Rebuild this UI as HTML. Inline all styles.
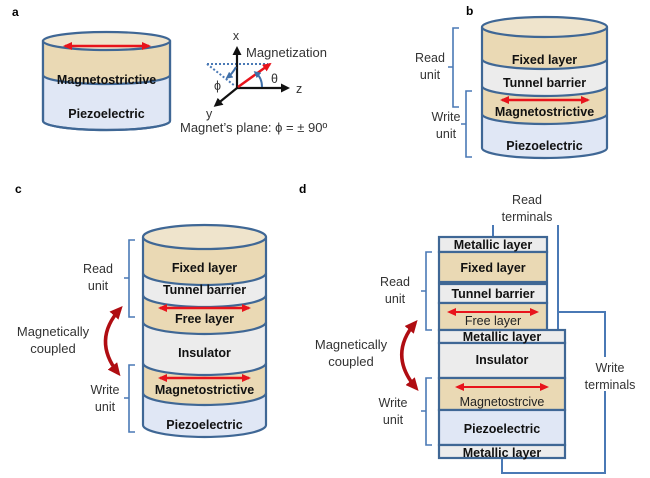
<!DOCTYPE html>
<html><head><meta charset="utf-8"><style>
html,body{margin:0;padding:0;background:#fff;}
svg{display:block;}
text{font-family:"Liberation Sans",Arial,sans-serif;}
.b{font-weight:bold;font-size:12.5px;fill:#111;}
.l{font-size:12.5px;fill:#333;}
.cyl{stroke:#3f6795;stroke-width:2.2;}
.br{fill:none;stroke:#4a79b5;stroke-width:1.6;}
.box{stroke:#3f6795;stroke-width:2.2;}
</style></head><body>
<svg width="650" height="478" viewBox="0 0 650 478" xmlns="http://www.w3.org/2000/svg">
<defs>
<marker id="ra" markerUnits="userSpaceOnUse" markerWidth="9" markerHeight="8" refX="7" refY="4" orient="auto-start-reverse"><path d="M0,0 L9,4 L0,8 z" fill="#e8141c"/></marker>
<marker id="ka" markerUnits="userSpaceOnUse" markerWidth="9" markerHeight="9" refX="6" refY="4.5" orient="auto"><path d="M0,0 L9,4.5 L0,9 z" fill="#111"/></marker>
<marker id="ba" markerUnits="userSpaceOnUse" markerWidth="7" markerHeight="7" refX="4" refY="3.5" orient="auto"><path d="M0,0 L7,3.5 L0,7 z" fill="#3f6fa8"/></marker>
<marker id="dr" markerUnits="userSpaceOnUse" markerWidth="13" markerHeight="12" refX="9" refY="6" orient="auto-start-reverse"><path d="M0,0 L13,6 L0,12 z" fill="#b00d12"/></marker>
</defs>
<rect width="650" height="478" fill="#fff"/>

<text x="12" y="16" style="font-weight:bold;font-size:12px">a</text>
<text x="466" y="15" style="font-weight:bold;font-size:12px">b</text>
<text x="15" y="193" style="font-weight:bold;font-size:12px">c</text>
<text x="299" y="193" style="font-weight:bold;font-size:12px">d</text>

<!-- Panel a cylinder -->
<path class="cyl" d="M43,41 L43,121 A63.5,9 0 0 0 170,121 L170,41 Z" fill="#e0e7f5"/>
<path d="M43,41 L43,75 A63.5,9 0 0 0 170,75 L170,41 Z" fill="#ead9b4"/>
<path class="cyl" fill="none" d="M43,75 A63.5,9 0 0 0 170,75"/>
<path class="cyl" fill="none" d="M43,41 L43,121 A63.5,9 0 0 0 170,121 L170,41"/>
<ellipse class="cyl" cx="106.5" cy="41" rx="63.5" ry="9" fill="#efe4cc"/>
<line x1="65" y1="46" x2="149" y2="46" stroke="#e8141c" stroke-width="2.5" marker-start="url(#ra)" marker-end="url(#ra)"/>
<text x="106.5" y="84" class="b" text-anchor="middle">Magnetostrictive</text>
<text x="106.5" y="118" class="b" text-anchor="middle">Piezoelectric</text>

<!-- axes -->
<line x1="207" y1="64" x2="268" y2="64" stroke="#4a79b5" stroke-width="2" stroke-dasharray="2,2"/>
<line x1="207" y1="64" x2="235" y2="86" stroke="#4a79b5" stroke-width="2" stroke-dasharray="2,2"/>
<line x1="237" y1="88" x2="237" y2="49" stroke="#111" stroke-width="2.2" marker-end="url(#ka)"/>
<line x1="237" y1="88" x2="287" y2="88" stroke="#111" stroke-width="2.2" marker-end="url(#ka)"/>
<line x1="237" y1="88" x2="216" y2="105" stroke="#111" stroke-width="2.2" marker-end="url(#ka)"/>
<line x1="238" y1="87" x2="270" y2="64" stroke="#e8141c" stroke-width="2.5" marker-end="url(#ra)"/>
<path d="M236,67 Q232,74 228,77" fill="none" stroke="#3f6fa8" stroke-width="2" marker-end="url(#ba)"/>
<path d="M262,87 Q262,78 256,73" fill="none" stroke="#3f6fa8" stroke-width="2" marker-end="url(#ba)"/>
<text x="236" y="40" class="l" text-anchor="middle">x</text>
<text x="296" y="93" class="l">z</text>
<text x="206" y="118" class="l">y</text>
<text x="246" y="57" class="l" style="font-size:13px">Magnetization</text>
<text x="214" y="90" class="l">ϕ</text>
<text x="271" y="83" class="l">θ</text>
<text x="180" y="132" class="l" style="font-size:13px">Magnet’s plane:  ϕ = ± 90º</text>

<!-- Panel b cylinder -->
<path d="M482,27 L482,148 A62.5,10 0 0 0 607,148 L607,27 Z" fill="#e0e7f5"/>
<path d="M482,27 L482,114 A62.5,10 0 0 0 607,114 L607,27 Z" fill="#ead9b4"/>
<path d="M482,59 L482,86 A62.5,10 0 0 0 607,86 L607,59 A62.5,10 0 0 1 482,59 Z" fill="#ececec"/>
<path class="cyl" fill="none" d="M482,59 A62.5,10 0 0 0 607,59 M482,86 A62.5,10 0 0 0 607,86 M482,114 A62.5,10 0 0 0 607,114"/>
<path class="cyl" fill="none" d="M482,27 L482,148 A62.5,10 0 0 0 607,148 L607,27"/>
<ellipse class="cyl" cx="544.5" cy="27" rx="62.5" ry="10" fill="#efe4cc"/>
<line x1="502" y1="100" x2="588" y2="100" stroke="#e8141c" stroke-width="2.5" marker-start="url(#ra)" marker-end="url(#ra)"/>
<text x="544.5" y="64" class="b" text-anchor="middle">Fixed layer</text>
<text x="544.5" y="87" class="b" text-anchor="middle">Tunnel barrier</text>
<text x="544.5" y="116" class="b" text-anchor="middle">Magnetostrictive</text>
<text x="544.5" y="150" class="b" text-anchor="middle">Piezoelectric</text>
<path class="br" d="M459,28 L453,28 L453,67 L448,67 M453,67 L453,107 L459,107"/>
<path class="br" d="M472,91 L466,91 L466,124 L461,124 M466,124 L466,157 L472,157"/>
<text x="430" y="62" class="l" text-anchor="middle">Read</text>
<text x="430" y="79" class="l" text-anchor="middle">unit</text>
<text x="446" y="121" class="l" text-anchor="middle">Write</text>
<text x="446" y="138" class="l" text-anchor="middle">unit</text>

<!-- Panel c cylinder -->
<path d="M143,237 L143,425 A61.5,12 0 0 0 266,425 L266,237 Z" fill="#e0e7f5"/>
<path d="M143,363 L143,393 A61.5,12 0 0 0 266,393 L266,363 Z" fill="#ead9b4"/>
<path d="M143,322 L143,363 A61.5,12 0 0 0 266,363 L266,322 A61.5,12 0 0 1 143,322 Z" fill="#ececec"/>
<path d="M143,237 L143,322 A61.5,12 0 0 0 266,322 L266,237 Z" fill="#ead9b4"/>
<path d="M143,273 L143,295 A61.5,12 0 0 0 266,295 L266,273 A61.5,12 0 0 1 143,273 Z" fill="#ececec"/>
<path class="cyl" fill="none" d="M143,273 A61.5,12 0 0 0 266,273 M143,295 A61.5,12 0 0 0 266,295 M143,322 A61.5,12 0 0 0 266,322 M143,363 A61.5,12 0 0 0 266,363 M143,393 A61.5,12 0 0 0 266,393"/>
<path class="cyl" fill="none" d="M143,237 L143,425 A61.5,12 0 0 0 266,425 L266,237"/>
<ellipse class="cyl" cx="204.5" cy="237" rx="61.5" ry="12" fill="#efe4cc"/>
<line x1="160" y1="308" x2="249" y2="308" stroke="#e8141c" stroke-width="2.5" marker-start="url(#ra)" marker-end="url(#ra)"/>
<line x1="160" y1="378" x2="249" y2="378" stroke="#e8141c" stroke-width="2.5" marker-start="url(#ra)" marker-end="url(#ra)"/>
<text x="204.5" y="272" class="b" text-anchor="middle">Fixed layer</text>
<text x="204.5" y="294" class="b" text-anchor="middle">Tunnel barrier</text>
<text x="204.5" y="323" class="b" text-anchor="middle">Free layer</text>
<text x="204.5" y="357" class="b" text-anchor="middle">Insulator</text>
<text x="204.5" y="394" class="b" text-anchor="middle">Magnetostrictive</text>
<text x="204.5" y="429" class="b" text-anchor="middle">Piezoelectric</text>
<path class="br" d="M135,240 L129,240 L129,278 L124,278 M129,278 L129,317 L135,317"/>
<path class="br" d="M135,365 L129,365 L129,398 L124,398 M129,398 L129,432 L135,432"/>
<text x="98" y="273" class="l" text-anchor="middle">Read</text>
<text x="98" y="290" class="l" text-anchor="middle">unit</text>
<text x="105" y="394" class="l" text-anchor="middle">Write</text>
<text x="105" y="411" class="l" text-anchor="middle">unit</text>
<text x="53" y="336" class="l" text-anchor="middle" style="font-size:13px">Magnetically</text>
<text x="53" y="353" class="l" text-anchor="middle" style="font-size:13px">coupled</text>
<path d="M120,309 Q92,340 118,373" fill="none" stroke="#b00d12" stroke-width="3.5" marker-start="url(#dr)" marker-end="url(#dr)"/>

<!-- Panel d -->
<line x1="493" y1="225" x2="493" y2="237" stroke="#4a79b5" stroke-width="2"/>
<line x1="558" y1="225" x2="558" y2="330" stroke="#4a79b5" stroke-width="2"/>
<path d="M558,312 L605,312 L605,473 L502,473 L502,458" fill="none" stroke="#4a79b5" stroke-width="2"/>
<rect x="439" y="237" width="108" height="15" class="box" fill="#ececec"/>
<rect x="439" y="252" width="108" height="30" class="box" fill="#ead9b4"/>
<rect x="439" y="284" width="108" height="19" class="box" fill="#ececec"/>
<rect x="439" y="303" width="108" height="27" class="box" fill="#ead9b4"/>
<rect x="439" y="330" width="126" height="13" class="box" fill="#ececec"/>
<rect x="439" y="343" width="126" height="35" class="box" fill="#ececec"/>
<rect x="439" y="378" width="126" height="32" class="box" fill="#ead9b4"/>
<rect x="439" y="410" width="126" height="35" class="box" fill="#e0e7f5"/>
<rect x="439" y="445" width="126" height="13" class="box" fill="#ececec"/>
<text x="493" y="249" class="b" text-anchor="middle">Metallic layer</text>
<text x="493" y="272" class="b" text-anchor="middle">Fixed layer</text>
<text x="493" y="298" class="b" text-anchor="middle">Tunnel barrier</text>
<line x1="449" y1="312" x2="537" y2="312" stroke="#e8141c" stroke-width="2" marker-start="url(#ra)" marker-end="url(#ra)"/>
<text x="493" y="325" class="l" text-anchor="middle" style="fill:#222">Free layer</text>
<text x="502" y="341" class="b" text-anchor="middle">Metallic layer</text>
<text x="502" y="364" class="b" text-anchor="middle">Insulator</text>
<line x1="457" y1="387" x2="547" y2="387" stroke="#e8141c" stroke-width="2" marker-start="url(#ra)" marker-end="url(#ra)"/>
<text x="502" y="406" class="l" text-anchor="middle" style="fill:#222">Magnetostrcive</text>
<text x="502" y="433" class="b" text-anchor="middle">Piezoelectric</text>
<text x="502" y="457" class="b" text-anchor="middle">Metallic layer</text>
<text x="527" y="204" class="l" text-anchor="middle">Read</text>
<text x="527" y="221" class="l" text-anchor="middle">terminals</text>
<rect x="580" y="357" width="52" height="34" fill="#fff"/>
<text x="610" y="372" class="l" text-anchor="middle">Write</text>
<text x="610" y="389" class="l" text-anchor="middle">terminals</text>
<path class="br" d="M432,252 L426,252 L426,291 L421,291 M426,291 L426,330 L432,330"/>
<path class="br" d="M432,378 L426,378 L426,411 L421,411 M426,411 L426,445 L432,445"/>
<text x="395" y="286" class="l" text-anchor="middle">Read</text>
<text x="395" y="303" class="l" text-anchor="middle">unit</text>
<text x="393" y="407" class="l" text-anchor="middle">Write</text>
<text x="393" y="424" class="l" text-anchor="middle">unit</text>
<text x="351" y="349" class="l" text-anchor="middle" style="font-size:13px">Magnetically</text>
<text x="351" y="366" class="l" text-anchor="middle" style="font-size:13px">coupled</text>
<path d="M415,323 Q388,355 416,388" fill="none" stroke="#b00d12" stroke-width="3.5" marker-start="url(#dr)" marker-end="url(#dr)"/>
</svg>
</body></html>
